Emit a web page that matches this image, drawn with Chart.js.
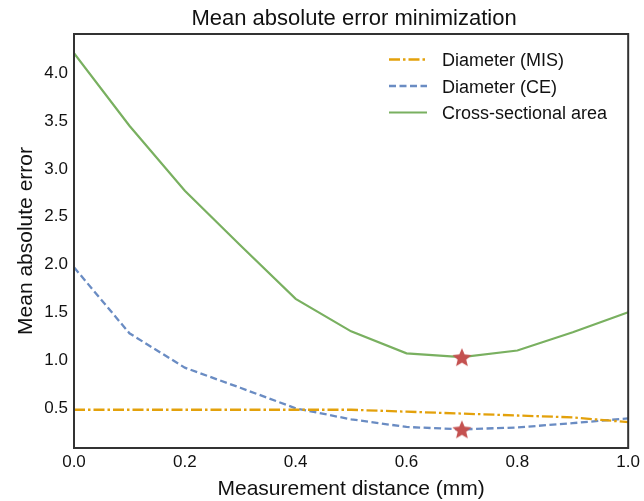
<!DOCTYPE html>
<html lang="en">
<head>
    <meta charset="UTF-8">
    <title>Mean absolute error minimization</title>
    <script src="https://cdn.jsdelivr.net/npm/chart.js"></script>
    <style>
        body { margin: 0; background: #fff; }
        #wrap { width: 644px; height: 501px; }
    </style>
</head>
<body>
    <div id="wrap"><canvas id="maeChart" width="644" height="501"></canvas></div>
    <script>
        const distances = [0.0, 0.1, 0.2, 0.3, 0.4, 0.5, 0.6, 0.7, 0.8, 0.9, 1.0];
        const maeDiameterMIS = [0.48, 0.48, 0.48, 0.48, 0.48, 0.48, 0.46, 0.44, 0.42, 0.40, 0.35];
        const maeDiameterCE = [1.97, 1.28, 0.92, 0.71, 0.495, 0.38, 0.30, 0.275, 0.295, 0.34, 0.39];
        const maeArea = [4.21, 3.45, 2.77, 2.20, 1.64, 1.30, 1.07, 1.03, 1.10, 1.29, 1.50];
        const xTicks = [0.0, 0.2, 0.4, 0.6, 0.8, 1.0];
        const yTicks = [0.5, 1.0, 1.5, 2.0, 2.5, 3.0, 3.5, 4.0];

        const FONT = '"Liberation Sans", Arial, sans-serif';
        const starColor = '#c45150';

        // filled five-point star used as the marker for each minimum
        function makeStar(size, color) {
            const c = document.createElement('canvas');
            c.width = size; c.height = size;
            const g = c.getContext('2d');
            const cx = size / 2, cy = size / 2 + 1, R = size / 2, r = R * 0.45;
            g.beginPath();
            for (let i = 0; i < 10; i++) {
                const rad = i % 2 === 0 ? R : r;
                const a = -Math.PI / 2 + i * Math.PI / 5;
                g.lineTo(cx + rad * Math.cos(a), cy + rad * Math.sin(a));
            }
            g.closePath();
            g.fillStyle = color;
            g.fill();
            return c;
        }
        const starImg = makeStar(20, starColor);

        function toPoints(ys) {
            return ys.map((y, i) => ({ x: distances[i], y: y }));
        }
        function minPoint(ys) {
            let k = 0;
            ys.forEach((v, i) => { if (v < ys[k]) k = i; });
            return { x: distances[k], y: ys[k] };
        }

        const lineSets = [
            { label: 'Diameter (MIS)', data: toPoints(maeDiameterMIS), borderColor: '#e3a10b', borderDash: [11, 3, 2.5, 3], borderWidth: 2.3 },
            { label: 'Diameter (CE)', data: toPoints(maeDiameterCE), borderColor: '#6a8cc3', borderDash: [7, 3.5], borderWidth: 2.3 },
            { label: 'Cross-sectional area', data: toPoints(maeArea), borderColor: '#79b060', borderDash: [], borderWidth: 2.2 }
        ];

        const datasets = lineSets.map(s => Object.assign({
            pointRadius: 0,
            tension: 0,
            fill: false,
            inLegend: true
        }, s));
        // stars on top of the lines (lower order is drawn last)
        datasets.push({
            label: 'minima',
            data: [minPoint(maeArea), minPoint(maeDiameterCE)],
            showLine: false,
            order: -1,
            pointStyle: starImg,
            pointRadius: 10,
            pointBorderWidth: 0,
            borderWidth: 0,
            borderColor: 'rgba(0,0,0,0)',
            backgroundColor: starColor,
            inLegend: false
        });

        const framePlugin = {
            id: 'frameAndText',
            afterDraw(chart) {
                const ctx = chart.ctx;
                const a = chart.chartArea;
                ctx.save();
                // axes frame
                ctx.strokeStyle = '#333';
                ctx.lineWidth = 2;
                ctx.strokeRect(a.left, a.top, a.right - a.left, a.bottom - a.top);

                ctx.fillStyle = '#111';
                ctx.textAlign = 'center';
                ctx.textBaseline = 'alphabetic';
                const mid = (a.left + a.right) / 2;
                ctx.font = '22px ' + FONT;
                ctx.fillText('Mean absolute error minimization', mid + 3, 25);
                ctx.font = '21px ' + FONT;
                ctx.fillText('Measurement distance (mm)', mid, 495);
                ctx.save();
                ctx.translate(32, (a.top + a.bottom) / 2);
                ctx.rotate(-Math.PI / 2);
                ctx.fillText('Mean absolute error', 0, 0);
                ctx.restore();

                // legend
                ctx.font = '18px ' + FONT;
                ctx.textAlign = 'left';
                const rows = chart.data.datasets.filter(d => d.inLegend);
                rows.forEach((d, i) => {
                    const y = 59.5 + i * 26.5;
                    ctx.beginPath();
                    ctx.setLineDash(d.borderDash);
                    ctx.strokeStyle = d.borderColor;
                    ctx.lineWidth = d.borderWidth;
                    ctx.moveTo(389, y);
                    ctx.lineTo(427, y);
                    ctx.stroke();
                    ctx.setLineDash([]);
                    ctx.fillStyle = '#111';
                    ctx.fillText(d.label, 442, y + 6.5);
                });
                ctx.restore();
            }
        };

        const config = {
            type: 'line',
            data: { datasets: datasets },
            options: {
                responsive: false,
                animation: false,
                layout: { padding: { left: 0, right: 15, top: 34, bottom: 0 } },
                plugins: {
                    legend: { display: false },
                    tooltip: { enabled: false }
                },
                scales: {
                    x: {
                        type: 'linear',
                        min: 0,
                        max: 1,
                        grid: { display: false, drawTicks: false },
                        border: { display: false },
                        afterBuildTicks: s => { s.ticks = xTicks.map(v => ({ value: v })); },
                        afterFit: s => { s.height = 53; },
                        ticks: {
                            padding: 4,
                            color: '#111',
                            font: { family: FONT, size: 17 },
                            maxRotation: 0,
                            callback: v => Number(v).toFixed(1)
                        }
                    },
                    y: {
                        min: 0.08,
                        max: 4.41,
                        grid: { display: false, drawTicks: false },
                        border: { display: false },
                        afterBuildTicks: s => { s.ticks = yTicks.map(v => ({ value: v })); },
                        afterFit: s => { s.width = 74; },
                        ticks: {
                            padding: 6,
                            color: '#111',
                            font: { family: FONT, size: 17 },
                            callback: v => Number(v).toFixed(1)
                        }
                    }
                }
            },
            plugins: [framePlugin]
        };

        const chart = new Chart(document.getElementById('maeChart'), config);
    </script>
</body>
</html>
